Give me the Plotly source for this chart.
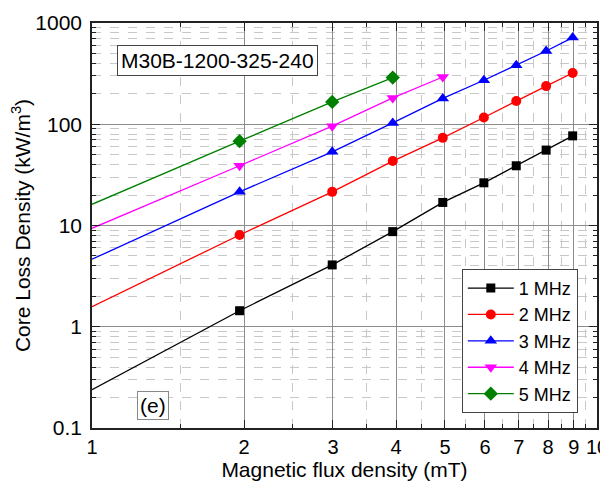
import plotly.graph_objects as go

# Data
b_field = [1.96, 2.99, 3.94, 4.95, 5.97, 6.92, 7.93, 8.95]  # mT
loss_1mhz = [1.44, 4.08, 8.7, 16.9, 26.4, 38.9, 55.6, 76.8]
loss_2mhz = [8.06, 21.5, 43.3, 73.4, 116.7, 170, 238, 321]
loss_3mhz = [21.5, 53.4, 103, 180, 272, 383, 529, 718]
loss_4mhz = [38.9, 95.8, 182, 293]
loss_5mhz = [68.1, 166, 289]
fit_b_start = 1.0
fit_at_start = [0.239, 1.58, 4.64, 9.38, 16.2]  # fitted line value at B = 1 mT
names = ["1 MHz", "2 MHz", "3 MHz", "4 MHz", "5 MHz"]
x_ticks = [1, 2, 3, 4, 5, 6, 7, 8, 9, 10]
x_tick_text = ["1", "2", "3", "4", "5", "6", "7", "8", "9", "10"]
y_ticks = [0.1, 1, 10, 100, 1000]
y_tick_text = ["0.1", "1", "10", "100", "1000"]
x_minor = [1.5, 2.5, 3.5, 4.5, 5.5, 6.5, 7.5, 8.5, 9.5]
y_minor = [m * d for d in [0.1, 1, 10, 100] for m in range(2, 10)]

series = [loss_1mhz, loss_2mhz, loss_3mhz, loss_4mhz, loss_5mhz]
colors = ["#000000", "#ff0000", "#0000ff", "#ff00ff", "#008000"]
symbols = ["square", "circle", "triangle-up", "triangle-down", "diamond"]
sizes = [9, 10, 11, 11, 11]

FONT = "Liberation Sans, Arial, sans-serif"
FS = 21

fig = go.Figure()
for i, ys in enumerate(series):
    n = len(ys)
    xs = b_field[:n]
    # fitted line extension towards B = 1 mT
    fig.add_trace(go.Scatter(
        x=[fit_b_start, xs[0]], y=[fit_at_start[i], ys[0]], mode="lines",
        line=dict(color=colors[i], width=1.3), showlegend=False, hoverinfo="skip"))
    fig.add_trace(go.Scatter(
        x=xs, y=ys, mode="lines+markers", name=names[i],
        line=dict(color=colors[i], width=1.3),
        marker=dict(symbol=symbols[i], size=sizes[i], color=colors[i])))

axis_common = dict(
    type="log", showline=True, linecolor="#222222", linewidth=1.5, automargin=False,
    mirror="allticks", ticks="inside", ticklen=8, tickwidth=1.2, tickcolor="#222222",
    showgrid=True, gridcolor="#8c8c8c", gridwidth=1, zeroline=False,
    ticklabeloverflow="allow",
)

fig.update_xaxes(
    **axis_common, range=[0, 1], tickmode="array", tickvals=x_ticks,
    ticktext=x_tick_text, ticklabelstandoff=0,
    tickfont=dict(family=FONT, size=20, color="#000000"),
    minor=dict(tickmode="array", tickvals=x_minor, ticks="inside", ticklen=4,
               tickcolor="#222222", showgrid=True, gridcolor="#c8c8c8", griddash="dash", gridwidth=1),
    title=dict(text="Magnetic flux density (mT)", font=dict(family=FONT, size=FS, color="#000000"), standoff=4),
)
fig.update_yaxes(
    **axis_common, range=[-1, 3], tickmode="array", tickvals=y_ticks, ticktext=y_tick_text,
    ticklabelstandoff=4,
    tickfont=dict(family=FONT, size=FS, color="#000000"),
    minor=dict(tickmode="array", tickvals=y_minor, ticks="inside", ticklen=4,
               tickcolor="#222222", showgrid=True, gridcolor="#c8c8c8", griddash="dash", gridwidth=1),
    title=dict(text="Core Loss Density (kW/m<sup>3</sup>)", font=dict(family=FONT, size=FS, color="#000000"), standoff=8),
)

# page body has an 8px margin, so the figure is shifted 8px right/down;
# keep the page short enough that no scrollbar appears
fig.update_layout(
    width=600, height=474,
    margin=dict(l=84, r=11, t=15, b=54),
    paper_bgcolor="white", plot_bgcolor="white",
    font=dict(family=FONT, size=FS, color="#000000"),
    legend=dict(x=0.962, xanchor="right", y=0.393, yanchor="top",
                bgcolor="white", bordercolor="#444444", borderwidth=1,
                itemwidth=46,
                font=dict(family=FONT, size=18), tracegroupgap=0),
    annotations=[
        dict(text="M30B-1200-325-240", xref="paper", yref="paper", x=0.2485, y=0.907,
             xanchor="center", yanchor="middle",
             showarrow=False, font=dict(family=FONT, size=FS, color="#000000"),
             bgcolor="white", bordercolor="#444444", borderwidth=1, borderpad=3),
        dict(text="(e)", xref="paper", yref="paper", x=0.121, y=0.055,
             xanchor="center", yanchor="middle",
             showarrow=False, font=dict(family=FONT, size=FS, color="#000000"),
             bgcolor="white", bordercolor="#888888", borderwidth=1, borderpad=2),
    ],
)

fig.write_html("out.html")
